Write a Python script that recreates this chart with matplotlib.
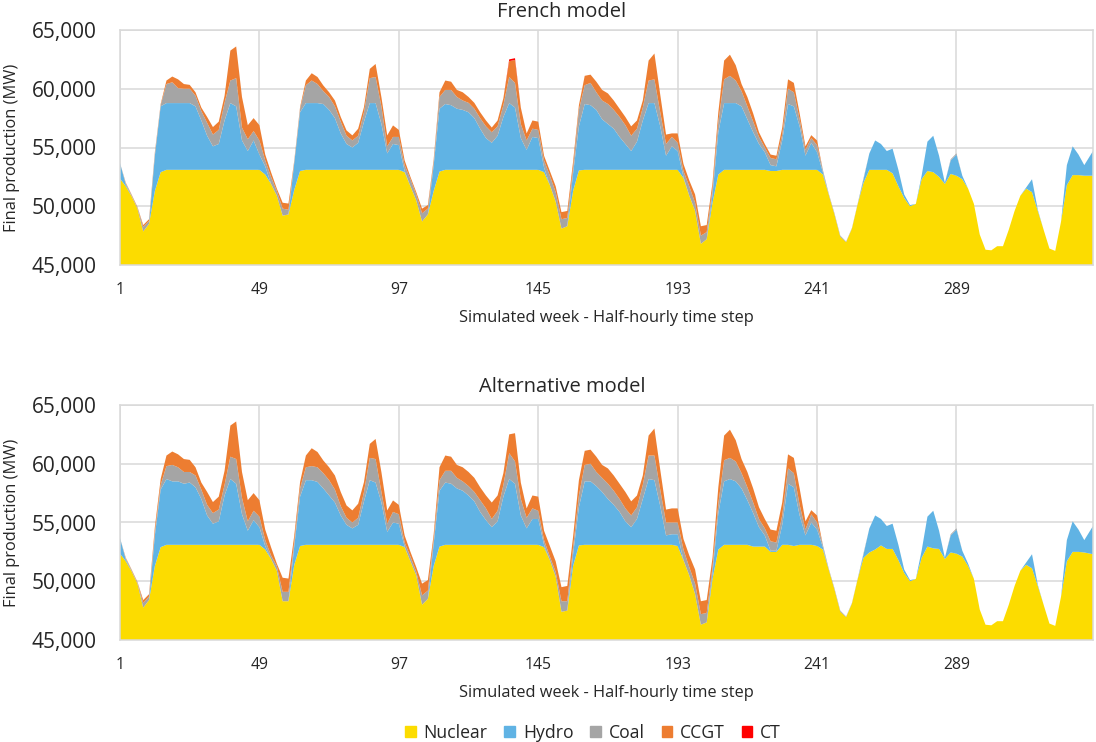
import numpy as np
import matplotlib
matplotlib.use("Agg")
import matplotlib.pyplot as plt
from matplotlib.patches import Patch
from matplotlib.ticker import FuncFormatter

plt.rcParams['font.family'] = ['Open Sans', 'DejaVu Sans']

# half-hourly steps sampled every second step (last sample = end of week)
steps = np.append(np.arange(1, 335, 2), 336)
x_ticks = [1, 49, 97, 145, 193, 241, 289]
y_ticks = [45000, 50000, 55000, 60000, 65000]
series_names = ["Nuclear", "Hydro", "Coal", "CCGT", "CT"]
series_colors = ["#FCDC00", "#60B3E4", "#A5A5A5", "#ED7D31", "#FF0000"]
titles = ["French model", "Alternative model"]

# total production (MW) - identical in both models
demand = (
    [53680, 52000, 51000, 49950, 48400, 48900, 54600, 58700, 60700, 61040, 60800, 60400,
     60330, 59700, 58400, 57600, 56740, 57200, 59400, 63250, 63600, 59300, 56900, 57500]
    + [56900, 54400, 52900, 51500, 50300, 50230, 53900, 58440, 60700, 61320, 61000, 60280,
       59700, 59000, 57600, 56450, 56030, 56600, 58440, 61690, 62110, 59290, 56030, 56880]
    + [56500, 53900, 52500, 51200, 49800, 50100, 54000, 59700, 60700, 60600, 59900, 59700,
       59300, 58800, 58000, 57300, 56700, 57300, 59200, 62500, 62600, 58400, 56200, 57300]
    + [57200, 54300, 53000, 51700, 49500, 49600, 53800, 58600, 61100, 61200, 60600, 59900,
       59600, 59000, 58300, 57600, 56800, 57300, 59000, 62400, 63000, 59500, 56100, 56200]
    + [56200, 53600, 52200, 51000, 48300, 48400, 52000, 58000, 62400, 62900, 62000, 60400,
       59300, 57900, 56300, 55300, 54400, 54300, 56700, 60800, 60500, 57900, 55100, 56050]
    + [55600, 53100, 51100, 49400, 47500, 47000, 48150, 50250, 52400, 54500, 55600, 55300,
       54700, 54900, 53100, 51000, 50100, 50200, 52600, 55500, 56000, 54300, 52000, 54000]
    + [54500, 52600, 51500, 50200, 47600, 46300, 46250, 46600, 46600, 48000, 49600, 50900,
       51600, 52300, 49700, 48000, 46400, 46200, 48700, 53500, 55100, 54400, 53500, 54700]
)

# ---------------- French model (upper boundary of each layer, MW) ----------------
fr_nuclear = (
    [52350, 51700, 50850, 49800, 47850, 48500, 51300, 52900] + [53100] * 16
    + [53100, 52700, 51900, 50900, 49200, 49300, 51400, 53000] + [53100] * 16
    + [53100, 52900, 51700, 50500, 48700, 49300, 51300, 52950] + [53100] * 16
    + [53100, 52900, 51800, 50400, 48100, 48300, 51300, 53050] + [53100] * 16
    + [53100, 52400, 50900, 49600, 46800, 47200, 50300, 52700] + [53100] * 8
    + [53000, 53000] + [53100] * 6
    + [53100, 52700, 51000, 49300, 47400, 46950, 48100, 50200, 52000, 53100, 53100, 53100,
       53100, 52800, 51700, 50700, 50000, 50200, 52300, 53000, 52900, 52500, 51900, 52750]
    + [52600, 52300, 51500, 50200, 47600, 46300, 46250, 46600, 46600, 48000, 49600, 50900,
       51500, 51200, 49600, 48000, 46400, 46200, 48700, 51800, 52650, 52650, 52600, 52600]
)
fr_hydro_top = (
    [53680, 51850, 50850, 49800, 47850, 48500, 54300, 58500, 58780, 58780, 58780, 58780,
     58780, 58500, 57300, 56000, 55100, 55300, 57300, 58780, 58500, 55600, 54700, 55600]
    + [54400, 53400, 51900, 50900, 49200, 49300, 53700, 58000, 58780, 58780, 58780, 58700,
       58200, 57500, 56200, 55300, 55000, 55400, 57200, 58780, 58780, 57000, 54500, 55300]
    + [55200, 53000, 51700, 50500, 48700, 49300, 53500, 58300, 58700, 58600, 58300, 58200,
       58000, 57500, 56600, 55800, 55400, 56000, 57600, 58780, 58400, 55800, 54800, 55900]
    + [55800, 53300, 51800, 50400, 48100, 48300, 52800, 56800, 58700, 58600, 58200, 57400,
       57000, 56600, 55900, 55300, 54700, 55500, 57300, 58780, 58780, 56800, 54300, 55100]
    + [54700, 52500, 50900, 49600, 46800, 47200, 51000, 56300, 58780, 58780, 58780, 58500,
       57400, 56300, 55300, 54600, 53500, 53400, 55600, 58700, 58500, 56800, 54300, 55400]
    + [54600, 52900, 51000, 49300, 47400, 46950, 48100, 50200, 52300, 54500, 55600, 55300,
       54700, 54900, 53100, 51000, 50100, 50200, 52600, 55500, 56000, 54300, 52000, 53900]
    + [54400, 52600, 51500, 50200, 47600, 46300, 46250, 46600, 46600, 48000, 49600, 50900,
       51600, 52300, 49700, 48000, 46400, 46200, 48700, 53500, 55100, 54400, 53500, 54700]
)
fr_coal_top = (
    [53680, 51950, 50950, 49900, 48250, 48750, 54500, 58600, 60400, 60550, 60050, 60000,
     60000, 59400, 58100, 57100, 56100, 56500, 58800, 60700, 60900, 56700, 55700, 56400]
    + [55600, 53900, 52500, 51300, 49800, 49700, 53800, 58300, 60300, 60700, 60400, 59800,
       59300, 58500, 57200, 56000, 55600, 56000, 58000, 60900, 61000, 58500, 55100, 55900]
    + [55900, 53500, 52300, 51000, 49400, 49800, 53800, 59300, 59900, 59900, 59300, 59000,
       58800, 58300, 57500, 56800, 56300, 56800, 58600, 61000, 60500, 57000, 55600, 56600]
    + [56500, 53900, 52600, 51200, 48900, 49000, 53300, 58200, 60300, 60500, 59700, 59000,
       58700, 58200, 57600, 56900, 56000, 56600, 58400, 60700, 60800, 58000, 55300, 55900]
    + [55400, 53000, 51700, 50300, 47500, 47800, 51500, 57200, 60800, 61100, 60700, 59800,
       58500, 57200, 55900, 55000, 54100, 54000, 56100, 60000, 59700, 57400, 54800, 55800]
    + [55200, 53100, 51100, 49400, 47500, 47000, 48150, 50250, 52400, 54500, 55600, 55300,
       54700, 54900, 53100, 51000, 50100, 50200, 52600, 55500, 56000, 54300, 52000, 54000]
    + [54500, 52600, 51500, 50200, 47600, 46300, 46250, 46600, 46600, 48000, 49600, 50900,
       51600, 52300, 49700, 48000, 46400, 46200, 48700, 53500, 55100, 54400, 53500, 54700]
)
fr_ct = [0] * 67 + [150, 150] + [0] * 99

# ---------------- Alternative model (upper boundary of each layer, MW) ----------------
alt_nuclear = (
    [52350, 51700, 50850, 49800, 47750, 48400, 51300, 52900] + [53100] * 16
    + [53100, 52700, 51900, 50900, 48300, 48300, 51400, 53000] + [53100] * 16
    + [53100, 52900, 51700, 50500, 48000, 48500, 51300, 52950] + [53100] * 16
    + [53100, 52900, 51800, 50400, 47400, 47500, 51300, 53050] + [53100] * 16
    + [53000, 51800, 50500, 48900, 46300, 46500, 50200, 52700, 53100, 53100, 53100, 53100,
       53100, 52950, 52950, 52950, 52500, 52500, 53100, 53100, 53000, 53100, 53100, 53100]
    + [53000, 52700, 51000, 49300, 47400, 46950, 48100, 50200, 52000, 52450, 52700, 53050,
       52750, 52750, 51800, 50700, 50000, 50200, 52000, 52950, 52800, 52750, 51900, 52450]
    + [52350, 52100, 51300, 50200, 47600, 46300, 46250, 46600, 46600, 48000, 49600, 50900,
       51400, 51100, 49600, 48000, 46400, 46200, 48700, 51700, 52500, 52500, 52450, 52300]
)
alt_hydro_top = (
    [53680, 51850, 50850, 49800, 47750, 48400, 53900, 57800, 58700, 58500, 58500, 58300,
     58400, 58000, 57000, 55600, 54900, 55100, 57300, 58700, 58300, 55700, 54300, 55200]
    + [54600, 53000, 51900, 50900, 48300, 48300, 53000, 57200, 58600, 58600, 58450, 57900,
       57300, 56700, 55600, 54800, 54500, 54800, 56800, 58600, 58400, 56700, 54200, 55000]
    + [54900, 52950, 51700, 50500, 48000, 48500, 53200, 57700, 58400, 58300, 57900, 57700,
       57300, 56800, 55900, 55200, 54600, 55100, 57200, 58700, 58300, 55600, 54500, 55300]
    + [55300, 53100, 51800, 50400, 47400, 47500, 52300, 56300, 58500, 58500, 58100, 57600,
       57000, 56500, 55900, 55100, 54600, 55300, 57000, 58700, 58600, 56400, 53900, 54000]
    + [54000, 51800, 50500, 48900, 46300, 46500, 50700, 55800, 58500, 58700, 58500, 57900,
       56900, 55800, 54600, 53900, 52600, 52600, 54800, 58300, 58000, 55600, 53900, 55000]
    + [54400, 52900, 51000, 49300, 47400, 46950, 48100, 50200, 52300, 54500, 55600, 55300,
       54700, 54900, 53100, 51000, 50100, 50200, 52600, 55500, 56000, 54300, 52000, 53900]
    + [54400, 52600, 51500, 50200, 47600, 46300, 46250, 46600, 46600, 48000, 49600, 50900,
       51600, 52300, 49700, 48000, 46400, 46200, 48700, 53500, 55100, 54400, 53500, 54700]
)
alt_coal_top = (
    [53680, 51950, 50950, 49900, 48150, 48700, 54200, 58200, 59800, 59900, 59700, 59300,
     59300, 59000, 57800, 56500, 55800, 56100, 58200, 60600, 60400, 57100, 55100, 56000]
    + [55500, 53500, 52200, 51300, 49100, 49100, 53400, 57900, 59700, 59800, 59700, 59200,
       58600, 57800, 56400, 55400, 55000, 55400, 57600, 60500, 60400, 57600, 54900, 55900]
    + [55700, 53300, 52100, 50800, 48800, 49200, 53600, 58600, 59400, 59400, 58800, 58500,
       58100, 57600, 56900, 56200, 55300, 56000, 58200, 60900, 60200, 57000, 55400, 56200]
    + [56000, 53500, 52100, 50800, 48300, 48300, 52900, 57300, 59900, 60000, 59300, 58800,
       58300, 57700, 57000, 56200, 55600, 56300, 58200, 60700, 60700, 57800, 55000, 55000]
    + [55000, 52700, 51200, 49800, 47200, 47300, 51200, 56600, 60300, 60500, 60200, 59200,
       58000, 56700, 55300, 54500, 53400, 53300, 55600, 59600, 59200, 56500, 54400, 55700]
    + [55000, 53100, 51100, 49400, 47500, 47000, 48150, 50250, 52400, 54500, 55600, 55300,
       54700, 54900, 53100, 51000, 50100, 50200, 52600, 55500, 56000, 54300, 52000, 54000]
    + [54500, 52600, 51500, 50200, 47600, 46300, 46250, 46600, 46600, 48000, 49600, 50900,
       51600, 52300, 49700, 48000, 46400, 46200, 48700, 53500, 55100, 54400, 53500, 54700]
)
alt_ct = [0] * 168

models = [
    (fr_nuclear, fr_hydro_top, fr_coal_top, fr_ct),
    (alt_nuclear, alt_hydro_top, alt_coal_top, alt_ct),
]

W, H = 1096, 742
fig = plt.figure(figsize=(W / 100, H / 100), dpi=100)
grid_c = "#D9D9D9"
text_c = "#262626"

axes_px = [(120, 30, 1093, 265), (120, 405, 1093, 640)]
for (nuc, hyd_top, coal_top, ct), (l, t, r, b), title in zip(models, axes_px, titles):
    ax = fig.add_axes([l / W, 1 - b / H, (r - l) / W, (b - t) / H])
    nuc = np.array(nuc, float)
    hyd_top = np.array(hyd_top, float)
    coal_top = np.array(coal_top, float)
    ct = np.array(ct, float)
    dem = np.array(demand, float)
    hydro = np.clip(hyd_top - nuc, 0, None)
    coal = np.clip(coal_top - hyd_top, 0, None)
    ccgt = np.clip(dem - coal_top - ct, 0, None)
    ax.stackplot(steps, nuc, hydro, coal, ccgt, ct, colors=series_colors,
                 linewidth=0, zorder=2)
    ax.set_xlim(1, 336)
    ax.set_ylim(45000, 65000)
    ax.set_xticks(x_ticks)
    ax.set_yticks(y_ticks)
    ax.yaxis.set_major_formatter(FuncFormatter(lambda v, p: f"{v:,.0f}"))
    ax.grid(True, color=grid_c, linewidth=1.1, zorder=0)
    ax.set_axisbelow(True)
    for s in ax.spines.values():
        s.set_color(grid_c)
        s.set_linewidth(1.1)
    ax.tick_params(axis="both", length=0, colors=text_c)
    ax.tick_params(axis="x", labelsize=11.3, pad=12)
    ax.tick_params(axis="y", labelsize=15, pad=17)
    fig.text(562 / W, 1 - (t - 18) / H, title, ha="center", va="center",
             fontsize=14.5, color=text_c)
    fig.text(606 / W, 1 - (b + 53) / H, "Simulated week - Half-hourly time step",
             ha="center", va="center", fontsize=11.8, color=text_c)
    fig.text(12.5 / W, 1 - ((t + b) / 2) / H, "Final production (MW)", rotation=90,
             ha="center", va="center", fontsize=11.8, color=text_c)

handles = [Patch(facecolor=c, edgecolor=c) for c in series_colors]
fig.legend(handles, series_names, loc="center", bbox_to_anchor=(593 / W, 1 - 733 / H),
           ncol=5, frameon=False, fontsize=12.7, handlelength=0.6, handleheight=0.6,
           handletextpad=0.45, columnspacing=0.95, labelcolor=text_c)

fig.savefig("out.png", dpi=100)
